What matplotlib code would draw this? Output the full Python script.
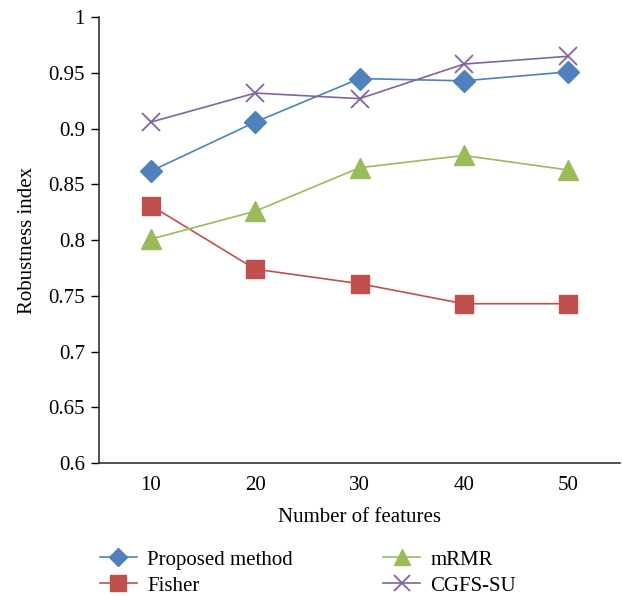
import matplotlib.pyplot as plt
import numpy as np

plt.rcParams['font.family'] = ['Liberation Serif', 'DejaVu Serif']

features = [10, 20, 30, 40, 50]
proposed = [0.862, 0.906, 0.945, 0.943, 0.951]
fisher = [0.831, 0.774, 0.761, 0.743, 0.743]
mrmr = [0.801, 0.826, 0.865, 0.876, 0.863]
cgfs = [0.906, 0.932, 0.927, 0.958, 0.965]

yticks = [0.6, 0.65, 0.7, 0.75, 0.8, 0.85, 0.9, 0.95, 1]
ytick_labels = ['0.6', '0.65', '0.7', '0.75', '0.8', '0.85', '0.9', '0.95', '1']

fig = plt.figure(figsize=(6.22, 5.96), dpi=100)
ax = fig.add_axes([0.159, 0.223, 0.838, 0.748])

xpos = np.arange(len(features))
ax.plot(xpos, proposed, color='#4F81BD', lw=1.2, marker='D', ms=11,
        mec='#4F81BD', mfc='#4F81BD', label='Proposed method')
ax.plot(xpos, fisher, color='#C0504D', lw=1.2, marker='s', ms=13,
        mec='#C0504D', mfc='#C0504D', label='Fisher')
ax.plot(xpos, mrmr, color='#9BBB59', lw=1.2, marker='^', ms=14,
        mec='#9BBB59', mfc='#9BBB59', label='mRMR')
ax.plot(xpos, cgfs, color='#8064A2', lw=1.2, marker='x', ms=13, mew=1.3,
        label='CGFS-SU')

ax.set_xlim(-0.5, len(features) - 0.5)
ax.set_ylim(0.6, 1.0)
ax.set_xticks(xpos)
ax.set_xticklabels([str(f) for f in features])
ax.set_yticks(yticks)
ax.set_yticklabels(ytick_labels)
ax.tick_params(axis='x', length=0, pad=9, labelsize=15)
ax.tick_params(axis='y', direction='out', length=6, width=1, labelsize=15, pad=4)
for s in ['top', 'right']:
    ax.spines[s].set_visible(False)
for s in ['left', 'bottom']:
    ax.spines[s].set_linewidth(1.2)
    ax.spines[s].set_color('#333333')

ax.set_xlabel('Number of features', fontsize=15, labelpad=10)
ax.set_ylabel('Robustness index', fontsize=15, labelpad=8)

handles, labels = ax.get_legend_handles_labels()
leg = fig.legend(handles, labels,
                 ncol=2, loc='upper left', bbox_to_anchor=(0.161, 0.077),
                 frameon=False, fontsize=15, handlelength=1.75,
                 columnspacing=4.35, labelspacing=0.3, markerscale=0.85,
                 handletextpad=0.5, borderaxespad=0, borderpad=0)

fig.savefig('out.png', dpi=100)
